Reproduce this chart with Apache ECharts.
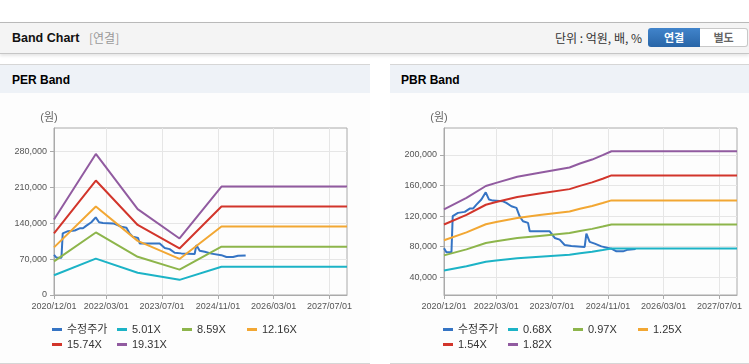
<!DOCTYPE html>
<html><head><meta charset="utf-8">
<script src="https://cdn.jsdelivr.net/npm/echarts@6/dist/echarts.min.js"></script>
<style>
html,body{margin:0;padding:0;background:#fff;width:749px;height:364px;overflow:hidden;font-family:"Liberation Sans","Noto Sans CJK KR",sans-serif;}
.abs{position:absolute;}
#hdr{left:0;top:22px;width:749px;height:30px;background:#f4f4f4;border-top:1px solid #b9b9b9;border-bottom:1px solid #c6c6c6;box-shadow:0 2px 3px rgba(0,0,0,0.10);}
.panel{top:64px;height:298px;border-top:1px solid #d6d6d6;border-bottom:1px solid #d6d6d6;background:#fdfdfd;}
.pbar{top:65px;height:28px;background:#eef2f7;}
.ptitle{top:65px;height:30px;line-height:30px;font-weight:bold;font-size:12px;color:#000;}
#chart{left:0;top:0;width:749px;height:364px;z-index:5;}
</style></head>
<body>
<div class="abs" id="hdr"></div>
<div class="abs" style="left:12px;top:23px;height:30px;line-height:30px;font-weight:bold;font-size:12.5px;color:#111;">Band Chart</div>
<div class="abs" style="left:89px;top:23px;height:30px;line-height:30px;font-size:12px;color:#999;font-family:'Noto Sans CJK KR';">[연결]</div>
<div class="abs" style="right:107px;top:23px;height:30px;line-height:30px;font-size:12px;color:#333;font-family:'Noto Sans CJK KR';">단위 : 억원, 배, %</div>
<div class="abs" style="left:648px;top:28px;width:52px;height:19px;border-radius:3px 0 0 3px;background:linear-gradient(#4184cb,#2865a7);color:#fff;font-weight:bold;font-size:11px;line-height:19px;text-align:center;font-family:'Noto Sans CJK KR';">연결</div>
<div class="abs" style="left:700px;top:28px;width:47px;height:17px;border:1px solid #c8c8c8;border-left:none;border-radius:0 3px 3px 0;background:#fff;color:#666;font-weight:bold;font-size:11px;line-height:17px;text-align:center;font-family:'Noto Sans CJK KR';">별도</div>

<div class="abs panel" style="left:0;width:370px;"></div>
<div class="abs pbar" style="left:0;width:370px;"></div>
<div class="abs ptitle" style="left:12px;">PER Band</div>
<div class="abs panel" style="left:390px;width:359px;"></div>
<div class="abs pbar" style="left:390px;width:359px;"></div>
<div class="abs ptitle" style="left:401px;">PBR Band</div>

<div class="abs" id="chart"></div>
<script>
// ---- data ----
const xTickLabels = ['2020/12/01','2022/03/01','2023/07/01','2024/11/01','2026/03/01','2027/07/01'];
const xRange = ['2020/12/01','2027/12/01'];
const perTicks = [0, 70000, 140000, 210000, 280000];
const pbrTicks = [40000, 80000, 120000, 160000, 200000];
const perNames = ['수정주가','5.01X','8.59X','12.16X','15.74X','19.31X'];
const pbrNames = ['수정주가','0.68X','0.97X','1.25X','1.54X','1.82X'];

const priceDates = ['2020/12/01','2020/12/22','2021/02/04','2021/02/15','2021/04/02','2021/05/31','2021/07/13','2021/08/11','2021/09/10','2021/10/23','2021/11/30','2021/12/29','2022/02/01','2022/04/30','2022/05/29','2022/07/12','2022/08/25','2022/09/22','2022/10/21','2022/12/04','2022/12/19','2023/06/11','2023/07/25','2023/09/06','2023/10/20','2023/12/17','2024/04/11','2024/04/26','2024/05/25','2024/07/08','2024/09/04','2024/11/30','2025/01/13','2025/03/12','2025/04/24','2025/06/30'];
const priceValues = [78000,72700,72700,120000,124200,125500,129800,129800,135000,141600,151000,141600,140200,139300,137200,132800,130700,119700,113200,111100,100100,100100,91500,89300,82300,81000,79700,97100,86300,84000,80500,77500,74000,74000,76200,77100];

const perDates = ['2020/12/01','2021/12/01','2022/12/01','2023/12/01','2024/12/01','2027/12/01'];
const per501  = [38500, 70800, 43400, 29500, 55000, 55000];
const per859  = [65500, 121700, 74400, 49400, 94000, 94000];
const per1216 = [92700, 172300, 105300, 70200, 133200, 133200];
const per1574 = [120000, 222800, 136300, 90600, 172300, 172300];
const per1931 = [147000, 274500, 167200, 110000, 211000, 211000];

const pbrDates = ['2020/12/01','2021/06/15','2021/12/01','2022/03/01','2022/09/01','2023/03/15','2023/12/01','2024/03/01','2024/06/15','2024/09/15','2024/12/01','2027/12/01'];
const pbr068 = [48900, 54500, 60400, 62000, 64900, 66900, 69600, 71500, 73500, 75600, 77600, 77600];
const pbr097 = [68700, 76600, 84900, 87100, 91300, 94100, 97800, 100500, 103300, 106300, 109000, 109000];
const pbr125 = [88500, 98800, 109400, 112300, 117600, 121300, 126000, 129500, 133100, 137000, 140500, 140500];
const pbr154 = [109000, 121700, 134800, 138300, 144900, 149400, 155200, 159500, 164000, 168800, 173100, 173100];
const pbr182 = [128900, 143800, 159300, 163400, 171300, 176500, 183500, 188600, 193800, 199500, 204600, 204600];

const colors = ['#3574c4','#1cb3c6','#8db54b','#f2a733','#d2352b','#915ba0'];

// ---- helpers ----
function ts(s){const p=s.split(/[\/-]/).map(Number);return Date.UTC(p[0],p[1]-1,p[2]);}
function pairs(dates, vals){return dates.map((d,i)=>[ts(d), vals[i]]);}
function pad(n){return (n<10?'0':'')+n;}
function fmtDate(v){const d=new Date(v);return d.getUTCFullYear()+'/'+pad(d.getUTCMonth()+1)+'/'+pad(d.getUTCDate());}
function fmtNum(v){return String(v).replace(/\B(?=(\d{3})+(?!\d))/g, ',');}
const FONT = '"Liberation Sans","Noto Sans CJK KR",sans-serif';
const xTicks = xTickLabels.map(ts);

function mkX(gi){
  return {type:'value', gridIndex:gi, min:ts(xRange[0]), max:ts(xRange[1]), scale:true,
    axisLine:{show:true,onZero:false,lineStyle:{color:'#aaa',width:1}},
    axisTick:{show:true,length:4,lineStyle:{color:'#aaa'},customValues:xTicks},
    axisLabel:{show:true,customValues:xTicks,formatter:fmtDate,fontSize:9,color:'#555',margin:7,fontFamily:FONT,hideOverlap:false},
    splitLine:{show:true,lineStyle:{color:'#e6e6e6',width:1}},
    minorTick:{show:false}, minorSplitLine:{show:false}};
}
function mkY(gi,min,max,ticks){
  return {type:'value', gridIndex:gi, min:min, max:max,
    name:'(원)', nameLocation:'end', nameGap:5,
    nameTextStyle:{fontSize:11,color:'#666',fontFamily:FONT,align:'center',padding:[0,10,0,0]},
    axisLine:{show:true,onZero:false,lineStyle:{color:'#aaa',width:1}},
    axisTick:{show:true,length:4,lineStyle:{color:'#aaa'},customValues:ticks},
    axisLabel:{show:true,customValues:ticks,formatter:fmtNum,fontSize:9,color:'#555',margin:7,fontFamily:FONT},
    splitLine:{show:true,lineStyle:{color:'#e6e6e6',width:1}}};
}
function mkSeries(name, data, color, gi){
  return {type:'line', name:name, xAxisIndex:gi, yAxisIndex:gi, data:data,
    showSymbol:false, symbol:'none', smooth:false, animation:false,
    itemStyle:{color:color}, lineStyle:{color:color,width:2},
    emphasis:{disabled:true}, silent:true};
}
function mkLegend(left, top, names){
  return {left:left, top:top, width:270, orient:'horizontal', padding:0,
    itemWidth:10, itemHeight:3, itemGap:0, icon:'rect', data:names,
    selectedMode:false,
    formatter:n=>'{a|'+n+'}',
    textStyle:{rich:{a:{width:50,fontSize:11,lineHeight:15,color:'#333',fontFamily:FONT}}}};
}

const chart = echarts.init(document.getElementById('chart'), null, {renderer:'canvas'});
const perSets = [pairs(priceDates,priceValues), pairs(perDates,per501), pairs(perDates,per859), pairs(perDates,per1216), pairs(perDates,per1574), pairs(perDates,per1931)];
const pbrSets = [pairs(priceDates,priceValues), pairs(pbrDates,pbr068), pairs(pbrDates,pbr097), pairs(pbrDates,pbr125), pairs(pbrDates,pbr154), pairs(pbrDates,pbr182)];
const series = [];
perSets.forEach((d,i)=>series.push(mkSeries(perNames[i], d, colors[i], 0)));
pbrSets.forEach((d,i)=>series.push(mkSeries(pbrNames[i], d, colors[i], 1)));

chart.setOption({
  backgroundColor:'transparent',
  animation:false,
  textStyle:{fontFamily:FONT},
  grid:[
    {left:54, top:128, width:293, height:167, show:true, borderColor:'#aaa', borderWidth:1, backgroundColor:'transparent', containLabel:false, outerBoundsMode:'none'},
    {left:444, top:128, width:293, height:167, show:true, borderColor:'#aaa', borderWidth:1, backgroundColor:'transparent', containLabel:false, outerBoundsMode:'none'}
  ],
  xAxis:[mkX(0), mkX(1)],
  yAxis:[mkY(0,0,325000,perTicks), mkY(1,17000,235000,pbrTicks)],
  legend:[
    mkLegend(52, 324, perNames.slice(0,4)), mkLegend(52, 339, perNames.slice(4)),
    mkLegend(443, 324, pbrNames.slice(0,4)), mkLegend(443, 339, pbrNames.slice(4))
  ],
  tooltip:{show:false},
  series:series
});
</script>
</body></html>
